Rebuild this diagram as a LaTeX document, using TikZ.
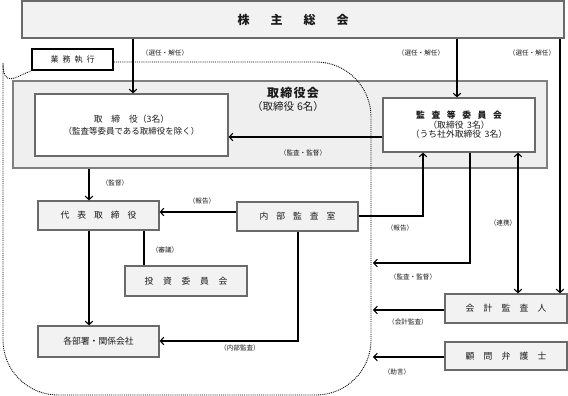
\documentclass[tikz,border=0pt]{standalone}
\usepackage{fontspec}
\setmainfont{Noto Sans CJK JP}
\usetikzlibrary{arrows.meta}
\definecolor{bfill}{HTML}{F2F2F2}
\definecolor{bline}{HTML}{6A6A6A}
\definecolor{afill}{HTML}{EFEFEF}
\definecolor{txt}{HTML}{1A1A1A}
\tikzset{
  gbox/.style={draw=bline, line width=1.2pt, fill=bfill, inner sep=0pt, text=txt,
    font=\fontsize{8.8}{10}\selectfont, align=center},
  wbox/.style={gbox, fill=white},
  lbl/.style={inner sep=0pt, text=txt, font=\fontsize{6.6}{7}\selectfont},
  ln/.style={line width=1.1pt, black},
  arr/.style={ln, -{Straight Barb[length=3.5pt,width=7.5pt]}},
  darr/.style={ln, {Straight Barb[length=3.5pt,width=7.5pt]}-{Straight Barb[length=3.5pt,width=7.5pt]}},
  dotb/.style={densely dotted, line width=0.9pt, black},
}
\begin{document}
\begin{tikzpicture}[x=1pt,y=-1pt]
\useasboundingbox (0,0) rectangle (568,396);

% top box
\node[gbox, minimum width=542pt, minimum height=37pt,
  font=\bfseries\fontsize{12}{14}\selectfont] (kabu) at (293,19.5)
  {株\hspace{1.75em}主\hspace{1.75em}総\hspace{1.75em}会};

% board area
\node[draw=bline!85, line width=1.6pt, fill=afill, minimum width=534pt,
  minimum height=87pt, inner sep=0pt] (area) at (280,124.5) {};
\node[inner sep=0pt, text=txt, font=\bfseries\fontsize{12}{14}\selectfont] (areat) at (293,93)
  {取\hspace{0.1em}締\hspace{0.1em}役\hspace{0.1em}会};
\node[inner sep=0pt, text=txt, font=\fontsize{10.5}{12}\selectfont] (areas) at (288,107)
  {（取締役\hspace{0.3em}6名）};

% execution box
\node[draw=black, line width=2.3pt, fill=white, inner sep=0pt, minimum width=81pt,
  minimum height=21pt, text=txt, font=\fontsize{8}{10}\selectfont] (gyomu) at (72.5,59.5)
  {業\hspace{0.5em}務\hspace{0.5em}執\hspace{0.5em}行};

% boxes
\node[wbox, minimum width=193pt, minimum height=62pt] (tori) at (131.5,125)
  {取\hspace{1em}締\hspace{1em}役（3名）\\[1.5pt]{\fontsize{8.5}{10}\selectfont（監査等委員である取締役を除く）}};
\node[wbox, minimum width=152pt, minimum height=54pt] (kansa) at (459,125)
  {{\bfseries 監\hspace{0.75em}査\hspace{0.75em}等\hspace{0.75em}委\hspace{0.75em}員\hspace{0.75em}会}\\[0pt]（取締役\hspace{0.4em}3名）\\[-1pt]（うち社外取締役\hspace{0.4em}3名）};
\node[gbox, minimum width=121pt, minimum height=29pt] (daihyo) at (98.5,215.5)
  {代\hspace{0.9em}表\hspace{0.9em}取\hspace{0.9em}締\hspace{0.9em}役};
\node[gbox, minimum width=121pt, minimum height=29pt] (naibu) at (297.5,216.5)
  {内\hspace{0.9em}部\hspace{0.9em}監\hspace{0.9em}査\hspace{0.9em}室};
\node[gbox, minimum width=122pt, minimum height=30pt] (toshi) at (186,281)
  {投\hspace{1.1em}資\hspace{1.1em}委\hspace{1.1em}員\hspace{1.1em}会};
\node[gbox, minimum width=121pt, minimum height=31pt] (kakubu) at (98.5,341.5)
  {各部署・関係会社};
\node[gbox, minimum width=122pt, minimum height=29pt] (kaikei) at (506,308.5)
  {会\hspace{1.05em}計\hspace{1.05em}監\hspace{1.05em}査\hspace{1.05em}人};
\node[gbox, minimum width=122pt, minimum height=28pt] (komon) at (506,356)
  {顧\hspace{1.05em}問\hspace{1.05em}弁\hspace{1.05em}護\hspace{1.05em}士};

% dotted boundary of business execution
\draw[dotb, rounded corners=55pt] (gyomu.east |- 0,62) -- (371,62) -- (371,395) -- (3,395) -- (3,118)
  [sharp corners] .. controls (3,90) and (18,75) .. (gyomu.south west);

% helper coordinates
\coordinate (xA) at (133,0);
\coordinate (xB) at (457,0);
\coordinate (xC) at (560,0);
\coordinate (x89) at (89,0);
\coordinate (x144) at (144,0);
\coordinate (x298) at (298,0);
\coordinate (x423) at (423,0);
\coordinate (x470) at (470,0);
\coordinate (x518) at (518,0);
\coordinate (y137) at (0,137);
\coordinate (y212) at (0,212);
\coordinate (y216) at (0,216);
\coordinate (y341) at (0,341);
\coordinate (endA) at (373,263);
\coordinate (endB) at (373,310);
\coordinate (endC) at (373,357);

% connectors
\draw[arr] (kabu.south -| xA) -- (tori.north -| xA);
\draw[arr] (kabu.south -| xB) -- (kansa.north -| xB);
\draw[arr] (kabu.south -| xC) -- (kaikei.north -| xC);
\draw[arr] (kansa.west |- y137) -- (tori.east |- y137);
\draw[arr] (area.south -| x89) -- (daihyo.north -| x89);
\draw[arr] (naibu.west |- y212) -- (daihyo.east |- y212);
\draw[arr] (daihyo.south -| x89) -- (kakubu.north -| x89);
\draw[ln] (daihyo.south -| x144) -- (toshi.north -| x144);
\draw[arr] (naibu.east |- y216) -| (kansa.south -| x423);
\draw[arr] (kansa.south -| x470) |- (endA);
\draw[darr] (kansa.south -| x518) -- (kaikei.north -| x518);
\draw[arr] (kaikei.west |- endB) -- (endB);
\draw[arr] (komon.west |- endC) -- (endC);
\draw[arr] (naibu.south -| x298) |- (kakubu.east |- y341);

% labels
\node[lbl] (l1) at (165,53) {（選任・解任）};
\node[lbl] (l2) at (421,53) {（選任・解任）};
\node[lbl] (l3) at (532,53) {（選任・解任）};
\node[lbl] (l4) at (303,153) {（監査・監督）};
\node[lbl] (l5) at (115,183) {（監督）};
\node[lbl] (l6) at (202,201) {（報告）};
\node[lbl] (l7) at (165,250) {（審議）};
\node[lbl] (l8) at (400,228) {（報告）};
\node[lbl] (l9) at (503,223) {（連携）};
\node[lbl] (l10) at (413,277) {（監査・監督）};
\node[lbl] (l11) at (408,322) {（会計監査）};
\node[lbl] (l12) at (397,372) {（助言）};
\node[lbl] (l13) at (240,348) {（内部監査）};
\end{tikzpicture}
\end{document}
